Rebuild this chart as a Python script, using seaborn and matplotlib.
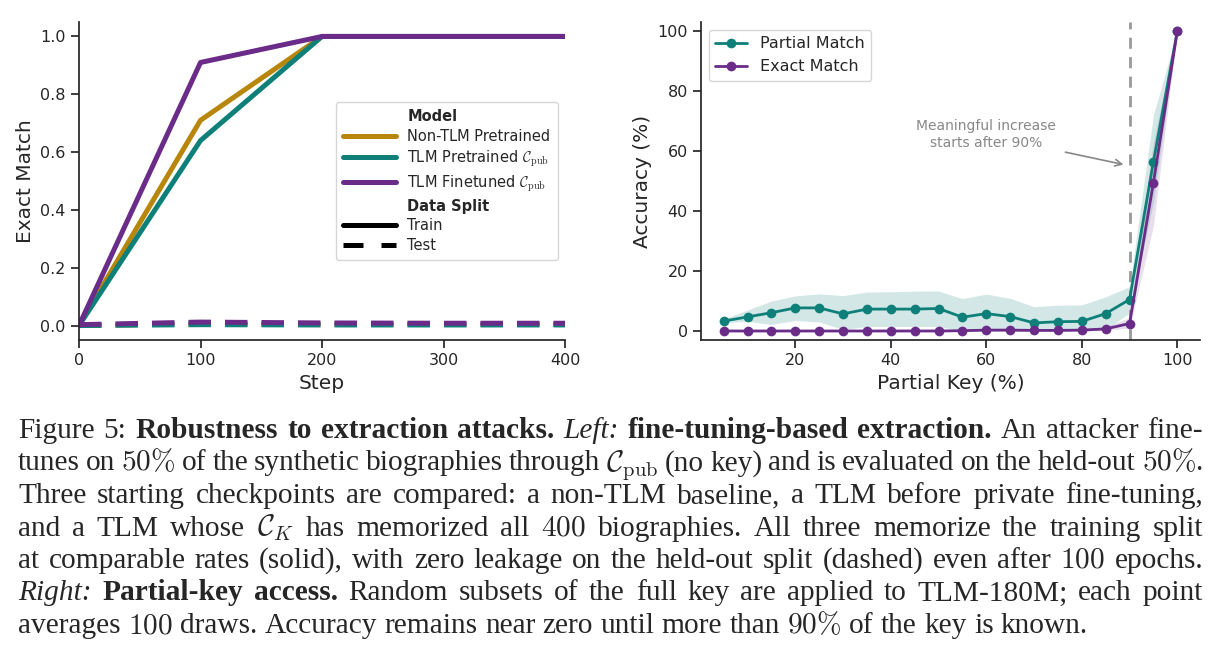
import matplotlib
matplotlib.use("Agg")
import matplotlib.pyplot as plt
from matplotlib.lines import Line2D
import numpy as np
import pandas as pd
import seaborn as sns

# ---------------- data ----------------
steps = [0, 100, 200, 300, 400]
models = ["Non-TLM Pretrained", r"TLM Pretrained $\mathcal{C}_{\mathrm{pub}}$", r"TLM Finetuned $\mathcal{C}_{\mathrm{pub}}$"]
train_nontlm = [0.0, 0.71, 1.0, 1.0, 1.0]
train_tlm_pre = [0.0, 0.64, 1.0, 1.0, 1.0]
train_tlm_ft = [0.0, 0.91, 1.0, 1.0, 1.0]
test_nontlm = [0.0, 0.006, 0.004, 0.004, 0.004]
test_tlm_pre = [0.0, 0.003, 0.002, 0.002, 0.002]
test_tlm_ft = [0.003, 0.012, 0.009, 0.008, 0.008]

partial_key = [5, 10, 15, 20, 25, 30, 35, 40, 45, 50, 55, 60, 65, 70, 75, 80, 85, 90, 95, 100]
partial_match = [3.3, 4.7, 6.1, 7.7, 7.7, 5.7, 7.3, 7.3, 7.3, 7.5, 4.6, 5.8, 4.8, 2.7, 3.1, 3.2, 5.8, 10.5, 56.5, 100]
partial_lo = [2.8, 3.2, 2.2, 3.5, 3.0, 0.5, 1.5, 1.5, 1.5, 1.5, 0.0, 0.0, 0.0, 0.0, 0.0, 0.0, 0.5, 6.0, 43.0, 100]
partial_hi = [4.0, 7.0, 10.0, 11.7, 12.4, 11.8, 13.0, 13.1, 13.3, 13.3, 10.8, 12.3, 10.9, 8.1, 8.6, 8.7, 11.4, 14.8, 72.0, 100]
exact_match = [0.0, 0.0, 0.0, 0.0, 0.0, 0.0, 0.0, 0.0, 0.0, 0.0, 0.1, 0.3, 0.3, 0.2, 0.2, 0.3, 0.7, 2.5, 49.5, 100]
exact_lo = [0, 0, 0, 0, 0, 0, 0, 0, 0, 0, 0, 0, 0, 0, 0, 0, 0.2, 1.0, 35.0, 100]
exact_hi = [0, 0, 0, 0, 0, 0, 0, 0, 0, 0, 0.3, 0.7, 0.7, 0.5, 0.5, 0.7, 1.4, 4.5, 63.0, 100]

# ---------------- style ----------------
sns.set_theme(style="ticks")
plt.rcParams["font.family"] = ["DejaVu Sans"]
plt.rcParams["mathtext.fontset"] = "cm"

GOLD = "#B8860B"
TEAL = "#0E8079"
PURPLE = "#6A2C88"
colors = [GOLD, TEAL, PURPLE]

W, H = 1225, 657
fig = plt.figure(figsize=(W / 100, H / 100), dpi=100)
ax1 = fig.add_axes([79 / W, 1 - 340 / H, 486 / W, 318 / H])
ax2 = fig.add_axes([701 / W, 1 - 340 / H, 499 / W, 318 / H])

# ---------------- left panel ----------------
rows = []
for m, tr, te in zip(models, [train_nontlm, train_tlm_pre, train_tlm_ft], [test_nontlm, test_tlm_pre, test_tlm_ft]):
    for s, v in zip(steps, tr):
        rows.append(dict(Step=s, Value=v, Model=m, Split="Train"))
    for s, v in zip(steps, te):
        rows.append(dict(Step=s, Value=v, Model=m, Split="Test"))
df = pd.DataFrame(rows)
sns.lineplot(data=df, x="Step", y="Value", hue="Model", style="Split",
             hue_order=models, style_order=["Train", "Test"],
             dashes={"Train": "", "Test": (4.5, 2.8)},
             palette=colors, linewidth=3.6, ax=ax1, legend=False)
ax1.set_xlim(0, 400)
ax1.set_ylim(-0.05, 1.05)
ax1.set_xticks([0, 100, 200, 300, 400])
ax1.set_yticks([0.0, 0.2, 0.4, 0.6, 0.8, 1.0])
ax1.set_xlabel("Step", fontsize=14.5)
ax1.set_ylabel("Exact Match", fontsize=14.5)
ax1.tick_params(labelsize=11.5)

handles = [Line2D([], [], color="none", label="Model")]
for c, m in zip(colors, models):
    handles.append(Line2D([], [], color=c, lw=3.6, label=m))
handles.append(Line2D([], [], color="none", label="Data Split"))
handles.append(Line2D([], [], color="black", lw=3.6, label="Train"))
handles.append(Line2D([], [], color="black", lw=3.6, dashes=(4.0, 3.6), label="Test"))
leg = ax1.legend(handles=handles, loc="center right", bbox_to_anchor=(1.0, 0.5),
                 fontsize=10.5, handlelength=3.6, frameon=True, labelspacing=0.32,
                 borderpad=0.5)
for t in leg.get_texts():
    if t.get_text() in ("Model", "Data Split"):
        t.set_fontweight("bold")

# ---------------- right panel ----------------
ax2.fill_between(partial_key, partial_lo, partial_hi, color=TEAL, alpha=0.18, lw=0)
ax2.fill_between(partial_key, exact_lo, exact_hi, color=PURPLE, alpha=0.15, lw=0)
sns.lineplot(x=partial_key, y=partial_match, color=TEAL, marker="o", markersize=7,
             markeredgewidth=0, linewidth=2, ax=ax2, label="Partial Match")
sns.lineplot(x=partial_key, y=exact_match, color=PURPLE, marker="o", markersize=7,
             markeredgewidth=0, linewidth=2, ax=ax2, label="Exact Match")
ax2.axvline(90, color="#999999", lw=2, dashes=(4, 3), zorder=1)
ax2.text(60, 65.5, "Meaningful increase\nstarts after 90%", color="#888888",
         fontsize=10, ha="center", va="center", linespacing=1.2)
ax2.annotate("", xy=(89.3, 55.3), xytext=(76, 59.8),
             arrowprops=dict(arrowstyle="->", color="#888888", lw=1.2))
ax2.set_xlim(0.25, 104.75)
ax2.set_ylim(-3, 103)
ax2.set_xticks([20, 40, 60, 80, 100])
ax2.set_yticks([0, 20, 40, 60, 80, 100])
ax2.set_xlabel("Partial Key (%)", fontsize=14.5)
ax2.set_ylabel("Accuracy (%)", fontsize=14.5)
ax2.tick_params(labelsize=11.5)
ax2.legend(loc="upper left", fontsize=11.5, handlelength=2.0, frameon=True)

sns.despine(fig=fig)

# ---------------- caption ----------------
caption_lines = [
    [("Figure 5:", "n"), ("Robustness to extraction attacks.", "b"), ("Left:", "i"),
     ("fine-tuning-based extraction.", "b"), ("An attacker fine-", "n")],
    [(r"tunes on $50\%$ of the synthetic biographies through $\mathcal{C}_{\mathrm{pub}}$ (no key) and is evaluated on the held-out $50\%$.", "n")],
    [("Three starting checkpoints are compared: a non-TLM baseline, a TLM before private fine-tuning,", "n")],
    [(r"and a TLM whose $\mathcal{C}_K$ has memorized all $400$ biographies.  All three memorize the training split", "n")],
    [(r"at comparable rates (solid), with zero leakage on the held-out split (dashed) even after $100$ epochs.", "n")],
    [("Right:", "i"), ("Partial-key access.", "b"),
     ("Random subsets of the full key are applied to TLM-180M; each point", "n")],
    [(r"averages $100$ draws. Accuracy remains near zero until more than $90\%$ of the key is known.", "n")],
]
CAP_FS = 21.2
X0, X1 = 18, 1203
BASE0, LSTEP = 438, 32.5
renderer = fig.canvas.get_renderer()
for li, runs in enumerate(caption_lines):
    words = []
    for txt, st in runs:
        for w in txt.split():
            kw = dict(fontsize=CAP_FS, family="Liberation Serif", va="baseline", ha="left")
            if st == "b":
                kw["fontweight"] = "bold"
            elif st == "i":
                kw["fontstyle"] = "italic"
            t = fig.text(0, 1 - (BASE0 + li * LSTEP) / H, w, **kw)
            words.append(t)
    widths = [t.get_window_extent(renderer).width for t in words]
    if li < len(caption_lines) - 1:
        gap = (X1 - X0 - sum(widths)) / (len(words) - 1)
    else:
        gap = CAP_FS * 1.389 * 0.25
    x = X0
    for t, w in zip(words, widths):
        t.set_x(x / W)
        x += w + gap

fig.savefig("out.png", dpi=100)
